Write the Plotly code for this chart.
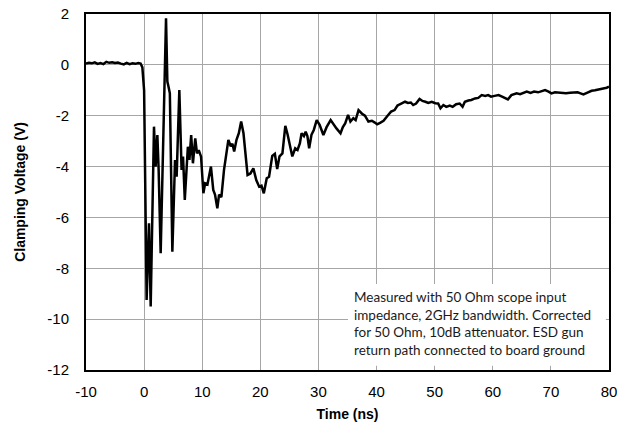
import plotly.graph_objects as go

time_ns = [
    -10, -9.5, -9, -8.5, -8, -7.5, -7, -6.5, -6, -5.5, -5, -4.5, -4, -3.5, -3, -2.5, -2, -1.5, -1, -0.6, -0.3,
    0.0, 0.43, 0.84, 1.13, 1.7, 1.98, 2.28, 2.5, 2.85, 3.77, 4.0, 4.2, 4.43, 4.86, 5.32, 5.6, 6.06, 6.45, 6.7,
    7.0, 7.53, 7.8, 8.1, 8.4, 8.8, 9.1, 9.4, 9.8, 10.2, 10.5, 10.9, 11.5, 11.9, 12.2, 12.6, 12.9, 13.3, 13.75,
    14.5, 14.9, 15.2, 15.5, 15.9, 16.3, 16.7, 17.1, 17.8, 18.3, 18.8, 19.3, 19.8, 20.2, 20.6, 21.1, 21.5, 22.05,
    22.5, 22.9, 23.3, 23.8, 24.3, 24.7, 25.1, 25.5, 26.0, 26.4, 26.8, 27.1, 27.5, 27.8, 28.1, 28.4, 28.8, 29.2,
    29.7, 30.2, 30.85, 31.4, 32.1, 32.6, 33.1, 33.8, 34.2, 34.6, 35.1, 35.5, 36.0, 36.4, 36.9, 37.5, 38.0, 38.6,
    39.2, 39.7, 40.1, 40.6, 41.2, 42.0, 42.5, 43.1, 43.6, 44.0, 44.5, 44.9, 45.4, 45.9, 46.3, 46.8, 47.4, 47.9,
    48.4, 48.9, 49.5, 50.1, 50.6, 51.0, 51.5, 52.0, 52.6, 53.1, 53.7, 54.3, 54.8, 55.2, 55.8, 56.3, 56.95, 57.5,
    58.1, 58.7, 59.2, 59.7, 60.3, 61.0, 61.6, 62.1, 62.6, 63.2, 63.6, 64.1, 64.7, 65.3, 65.85, 66.5, 67.1, 67.8,
    68.4, 69.0, 69.6, 70.1, 70.7, 71.3, 71.9, 72.6, 73.3, 74.0, 74.6, 75.1, 75.6, 76.2, 77.0, 77.6, 78.2, 78.7,
    79.2, 79.6, 80.0,
]
voltage_v = [
    0.05, 0.08, 0.06, 0.10, 0.04, 0.07, 0.03, 0.12, 0.08, 0.10, 0.07, 0.09, 0.05, 0.02, 0.08, 0.03, 0.06, 0.04, 0.07, 0.05, -0.10,
    -1.0, -9.25, -6.23, -9.5, -2.43, -4.0, -2.76, -4.13, -7.41, 1.83, -0.66, -0.86, -1.12, -7.35, -3.74, -4.4, -0.99, -4.13, -3.61,
    -5.31, -3.22, -3.74, -2.76, -3.87, -2.89, -3.48, -3.35, -3.61, -5.05, -4.66, -4.7, -4.0, -4.92, -5.1, -5.64, -5.1, -5.2, -4.13,
    -2.95, -3.2, -3.1, -3.41, -2.95, -2.69, -2.23, -2.69, -4.33, -4.27, -4.07, -4.53, -4.79, -4.75, -5.05, -4.46, -4.4, -3.58,
    -3.5, -4.1, -3.6, -3.48, -2.4, -2.75, -3.15, -3.6, -3.28, -3.35, -3.09, -2.69, -2.8, -2.63, -2.8, -3.28, -2.75, -2.56,
    -2.17, -2.36, -2.76, -2.45, -2.17, -2.36, -2.5, -2.69, -2.45, -2.3, -1.97, -2.23, -2.1, -2.17, -1.78, -1.92, -2.0, -2.23,
    -2.2, -2.27, -2.34, -2.28, -2.2, -1.97, -1.84, -1.78, -1.6, -1.55, -1.5, -1.45, -1.5, -1.48, -1.58, -1.52, -1.34, -1.42,
    -1.45, -1.5, -1.45, -1.51, -1.52, -1.71, -1.58, -1.65, -1.6, -1.65, -1.55, -1.52, -1.65, -1.45, -1.4, -1.38, -1.32, -1.3,
    -1.19, -1.22, -1.19, -1.25, -1.22, -1.19, -1.25, -1.32, -1.36, -1.19, -1.15, -1.12, -1.15, -1.1, -1.05, -1.1, -1.05, -1.08,
    -1.02, -0.99, -1.05, -1.12, -1.08, -1.1, -1.12, -1.12, -1.1, -1.09, -1.08, -1.12, -1.16, -1.1, -1.02, -1.0, -0.98, -0.96,
    -0.92, -0.9, -0.86,
]

x_ticks = [-10, 0, 10, 20, 30, 40, 50, 60, 70, 80]
y_ticks = [2, 0, -2, -4, -6, -8, -10, -12]
x_labels = ["-10", "0", "10", "20", "30", "40", "50", "60", "70", "80"]
y_labels = ["2", "0", "-2", "-4", "-6", "-8", "-10", "-12"]
note_lines = [
    "Measured with 50 Ohm scope input",
    "impedance, 2GHz bandwidth. Corrected",
    "for 50 Ohm, 10dB attenuator. ESD gun",
    "return path connected to board ground",
]

fig = go.Figure()
fig.add_trace(go.Scatter(x=time_ns, y=voltage_v, mode="lines",
                         line=dict(color="black", width=2.5), showlegend=False))

axis_font = dict(family="Liberation Sans", size=15, color="black")
title_font = dict(family="Liberation Sans", size=14, color="black")
fig.update_layout(
    width=632, height=425,
    margin=dict(l=86, r=23, t=14, b=55),
    paper_bgcolor="white", plot_bgcolor="white",
    showlegend=False,
    xaxis=dict(range=[-10, 80], tickmode="array", tickvals=x_ticks, ticktext=x_labels,
               showgrid=True, gridcolor="#a6a6a6", gridwidth=1,
               showline=True, linecolor="black", linewidth=2, mirror=True, zeroline=False,
               ticks="outside", ticklen=7, tickcolor="white", tickfont=axis_font, automargin=False,
               title=dict(text="<b>Time (ns)</b>", font=title_font, standoff=10)),
    yaxis=dict(range=[-12, 2], tickmode="array", tickvals=y_ticks, ticktext=y_labels,
               showgrid=True, gridcolor="#a6a6a6", gridwidth=1,
               showline=True, linecolor="black", linewidth=2, mirror=True, zeroline=False,
               ticks="outside", ticklen=12, tickcolor="white", tickfont=axis_font, automargin=False,
               title=dict(text="<b>Clamping Voltage (V)</b>", font=title_font, standoff=18)),
)

fig.add_shape(type="rect", xref="paper", yref="paper", x0=0.501, x1=0.994, y0=0.012, y1=0.2416,
              fillcolor="white", line=dict(width=0), layer="above")
fig.add_annotation(xref="paper", yref="paper", x=0.5086, y=0.1306, xanchor="left", yanchor="middle",
                   text="<br>".join(note_lines), showarrow=False, align="left",
                   font=dict(family="Lato", size=13.5, color="#1a1a1a"))

fig.write_html("out.html", config={"displayModeBar": False},
               post_script="document.body.style.margin='0';")
